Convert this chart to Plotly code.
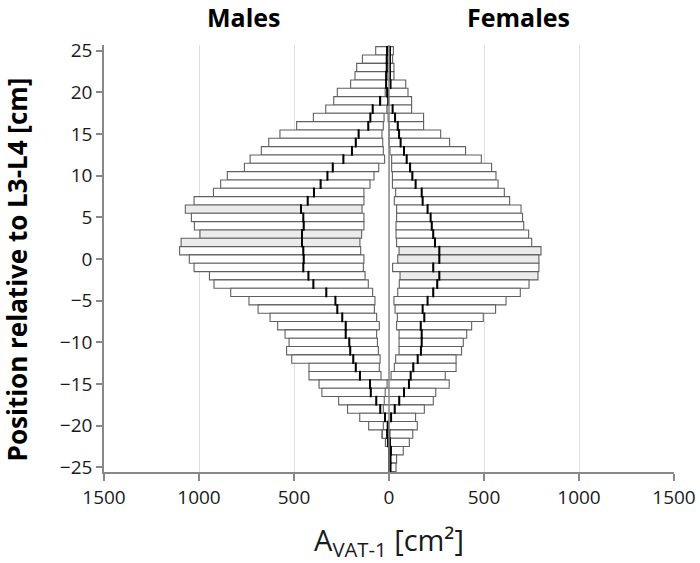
import plotly.graph_objects as go

# Position relative to L3-L4 [cm]
positions = [25, 24, 23, 22, 21, 20, 19, 18, 17, 16, 15, 14, 13, 12, 11, 10, 9, 8, 7, 6,
             5, 4, 3, 2, 1, 0, -1, -2, -3, -4, -5, -6, -7, -8, -9, -10, -11, -12, -13, -14,
             -15, -16, -17, -18, -19, -20, -21, -22, -23, -24, -25]

# Males: A_VAT-1 [cm2] (inner edge, median, outer edge)
male_lo = [0, 0, 0, 0, 0, 0, 0, 10, 26, 30, 37, 33, 30, 23, 54, 79, 100, 132, 132, 142,
           132, 132, 144, 153, 149, 132, 135, 126, 109, 86, 74, 77, 65, 51, 65, 61, 56, 47, 51, 42,
           0, 0, -5, -10, -15, -15, -10, -5, 0, 0, 0]
male_med = [10, 12, 12, 15, 15, 7, 47, 86, 98, 109, 160, 175, 195, 240, 296, 324, 360, 395, 428, 463,
            451, 449, 458, 458, 451, 449, 451, 424, 398, 330, 282, 272, 246, 228, 228, 209, 204, 188, 175, 153,
            100, 96, 67, 46, 21, 7, 10, 5, 0, 0, 0]
male_hi = [70, 140, 170, 179, 202, 272, 291, 333, 398, 486, 574, 633, 672, 731, 761, 851, 886, 924, 1026, 1072,
           1040, 1024, 995, 1094, 1102, 1051, 1026, 945, 921, 833, 737, 689, 626, 586, 547, 526, 539, 512, 421, 421,
           368, 353, 265, 218, 154, 107, 37, 19, 2, 2, 2]

# Females: A_VAT-1 [cm2] (inner edge, median, outer edge)
female_lo = [-10, -10, -10, -10, -15, -20, -44, -10, -5, 0, 0, 0, 5, 14, 14, 18, 18, 35, 28, 40,
             40, 37, 37, 40, 53, 46, 19, 58, 54, 46, 26, 32, 44, 40, 53, 53, 53, 35, 28, 11,
             -10, -20, -25, -30, -21, -30, -35, -18, 0, 0, 0]
female_med = [5, 5, 5, 5, 8, -9, -4, 19, 32, 46, 53, 61, 79, 93, 111, 123, 140, 172, 177, 203,
              219, 225, 233, 242, 265, 265, 233, 265, 254, 233, 203, 177, 186, 167, 172, 172, 168, 151, 128, 114,
              105, 79, 54, 30, 11, -4, 2, 5, 10, 8, 8]
female_hi = [23, 19, 26, 26, 88, 100, 119, 119, 182, 182, 272, 319, 403, 486, 540, 563, 574, 607, 635, 695,
             703, 709, 735, 751, 800, 789, 789, 784, 737, 691, 616, 561, 496, 435, 409, 391, 382, 353, 353, 296,
             317, 246, 233, 186, 140, 149, 125, 107, 75, 40, 37]

# Highlighted (grey) rows
male_highlight = [6, 3, 2]
female_highlight = [1, 0, -2]

x_ticks = [-1500, -1000, -500, 0, 500, 1000, 1500]
x_ticktext = ["1500", "1000", "500", "0", "500", "1000", "1500"]
y_ticks = [-25, -20, -15, -10, -5, 0, 5, 10, 15, 20, 25]

WHITE = "#ffffff"
GREY = "#ebebeb"
EDGE = "#606060"
FONT = "Open Sans"

m_lo = [-v for v in male_lo]
m_med = [-v for v in male_med]
m_hi = [-v for v in male_hi]
m_fill = [GREY if p in male_highlight else WHITE for p in positions]
f_fill = [GREY if p in female_highlight else WHITE for p in positions]

fig = go.Figure()


def add_segment(base, end, fills):
    fig.add_trace(go.Bar(
        y=positions, base=base, x=[e - b for b, e in zip(base, end)],
        orientation="h", width=1,
        marker=dict(color=fills, line=dict(color=EDGE, width=1.1)),
        showlegend=False, hoverinfo="skip"))


add_segment(m_lo, m_med, m_fill)
add_segment(m_med, m_hi, m_fill)
add_segment(female_lo, female_med, f_fill)
add_segment(female_med, female_hi, f_fill)

for med in (m_med, female_med):
    fig.add_trace(go.Scatter(
        x=med, y=positions, mode="markers",
        marker=dict(symbol="line-ns", size=7, line=dict(color="black", width=2)),
        showlegend=False, hoverinfo="skip"))

fig.update_layout(
    width=700, height=563,
    margin=dict(l=104, r=26, t=45, b=90.5, autoexpand=False),
    paper_bgcolor="white", plot_bgcolor="white",
    barmode="overlay",
    font=dict(family=FONT, color="#1a1a1a"),
    xaxis=dict(range=[-1500, 1500], tickvals=x_ticks, ticktext=x_ticktext, automargin=False,
               showgrid=True, gridcolor="#dedede", gridwidth=1,
               zeroline=False, showline=True, linecolor="#888888", linewidth=1.5,
               ticks="outside", ticklen=7, tickcolor="#888888", tickwidth=1.5,
               tickfont=dict(size=19, family=FONT, color="#1a1a1a"),
               title=dict(text="A<sub>VAT-1</sub> [cm²]", standoff=24,
                          font=dict(size=29, family=FONT, color="#1a1a1a"))),
    yaxis=dict(range=[-25.56, 25.7], tickvals=y_ticks, automargin=False,
               showgrid=False, zeroline=False, showline=True, linecolor="#888888", linewidth=1.5,
               ticks="outside", ticklen=6, tickcolor="#888888", tickwidth=1.5,
               tickfont=dict(size=19, family=FONT, color="#1a1a1a")),
    shapes=[dict(type="line", xref="x", yref="paper", x0=0, x1=0, y0=0, y1=1,
                 line=dict(color="#888888", width=1.5), layer="above")],
    annotations=[
        dict(text="<b>Males</b>", x=-763, y=1.0655, xref="x", yref="paper",
             xanchor="center", yanchor="middle",
             showarrow=False, font=dict(size=25, family=FONT, color="black")),
        dict(text="<b>Females</b>", x=679, y=1.0655, xref="x", yref="paper",
             xanchor="center", yanchor="middle",
             showarrow=False, font=dict(size=25, family=FONT, color="black")),
        dict(text="<b>Position relative to L3-L4 [cm]</b>", x=-0.153, y=0.474,
             xref="paper", yref="paper", textangle=-90, showarrow=False,
             xanchor="center", yanchor="middle",
             font=dict(size=26, family=FONT, color="black")),
    ],
)

# Remove the default page margin so the 700x563 figure fills the window exactly.
fig.write_html("out.html", config={"displayModeBar": False},
               post_script="document.body.style.margin='0';")
